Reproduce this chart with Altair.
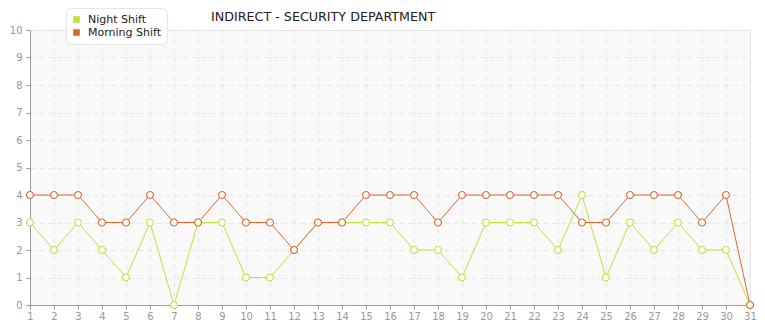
import altair as alt
import pandas as pd

days = list(range(1, 32))
night = [3, 2, 3, 2, 1, 3, 0, 3, 3, 1, 1, 2, 3, 3, 3, 3, 2, 2, 1, 3, 3, 3, 2, 4, 1, 3, 2, 3, 2, 2, 0]
morning = [4, 4, 4, 3, 3, 4, 3, 3, 4, 3, 3, 2, 3, 3, 4, 4, 4, 3, 4, 4, 4, 4, 4, 3, 3, 4, 4, 4, 3, 4, 0]
series = ["Night Shift", "Morning Shift"]
colors = ["#c5de3c", "#e0672f"]

rows = []
for d, n, m in zip(days, night, morning):
    rows.append({"day": d, "value": n, "series": series[0]})
    rows.append({"day": d, "value": m, "series": series[1]})
df = pd.DataFrame(rows)

x = alt.X("day:Q", scale=alt.Scale(domain=[1, 31], nice=False, zero=False),
          axis=alt.Axis(values=days, format="d", title=None, grid=True,
                        gridDash=[5, 4], gridColor="#e4e4e4", labelColor="#999999",
                        labelFontSize=10, labelFont="DejaVu Sans", domainColor="#999999",
                        tickColor="#999999", tickSize=4, labelPadding=2, labelFlush=False))
y = alt.Y("value:Q", scale=alt.Scale(domain=[0, 10], nice=False),
          axis=alt.Axis(values=list(range(0, 11)), title=None, grid=True,
                        gridDash=[5, 4], gridColor="#e4e4e4", labelColor="#999999",
                        labelFontSize=10, labelFont="DejaVu Sans", domainColor="#999999",
                        tickColor="#999999", tickSize=4, labelPadding=4))
color = alt.Color("series:N", scale=alt.Scale(domain=series, range=colors),
                  sort=series,
                  legend=alt.Legend(title=None, orient="none", legendX=36, legendY=-22,
                                    symbolType="square", symbolSize=10, symbolStrokeWidth=3.5,
                                    labelFontSize=11, labelFont="DejaVu Sans", labelColor="#222222",
                                    fillColor="white", strokeColor="#e4e4e4", cornerRadius=5,
                                    padding=5, rowPadding=0, labelOffset=6, clipHeight=13))

lines = alt.Chart(df).mark_line(strokeWidth=1, clip=False).encode(
    x=x, y=y, color=color, detail="series:N")
points = alt.Chart(df).mark_point(shape="circle", filled=False, fill="white", fillOpacity=1,
                                  size=48, strokeWidth=1.1, opacity=1, clip=False).encode(
    x=x, y=y, color=alt.Color("series:N", scale=alt.Scale(domain=series, range=colors), legend=None))

chart = alt.layer(lines, points).properties(
    width=720, height=275,
    autosize=alt.AutoSizeParams(type="none"),
    padding={"left": 30, "top": 30, "right": 15, "bottom": 15},
    title=alt.TitleParams("INDIRECT - SECURITY DEPARTMENT", anchor="start", frame="group",
                          dx=181, dy=16, offset=0, fontSize=12.7, fontWeight="normal",
                          font="DejaVu Sans", color="#222222"),
    background="white",
).configure_view(fill="#f9f9f9", stroke="#e6e6e6", strokeWidth=1)

chart.save("out.html", embed_options={"renderer": "svg", "actions": False})
